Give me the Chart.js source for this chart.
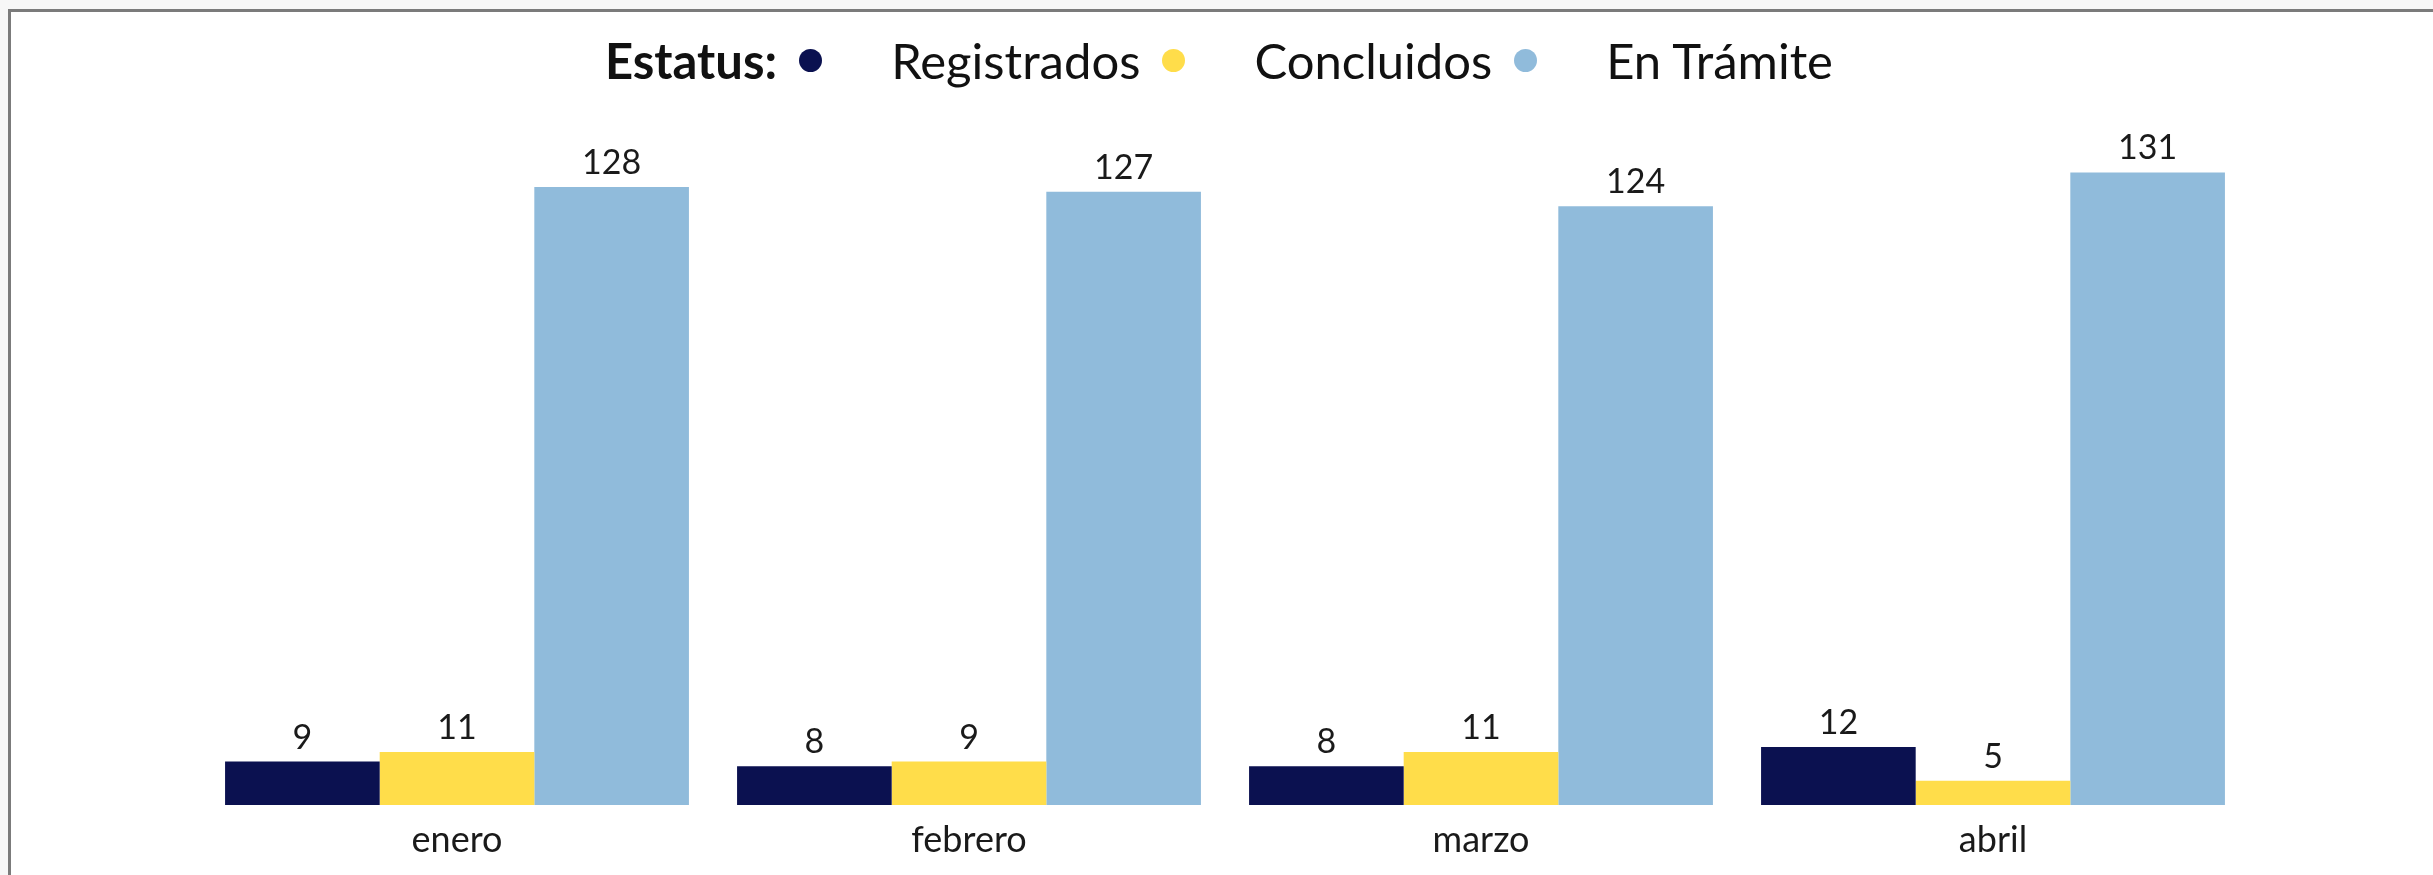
<!DOCTYPE html>
<html lang="es">
<head>
  <meta charset="UTF-8" />
  <title>Estatus por mes</title>
  <script src="https://cdn.jsdelivr.net/npm/chart.js"></script>
  <style>
    html, body { margin: 0; padding: 0; background: #f7f7f7; }
    body { width: 2433px; height: 875px; position: relative; overflow: hidden; font-family: Lato, "Open Sans", sans-serif; }
    .frame { position: absolute; left: 8px; top: 9px; right: 0; bottom: 0; background: #fff;
             border-top: 3px solid #7b7b7b; border-left: 3px solid #7b7b7b; }
    #chart { position: absolute; left: 0; top: 0; }
    .legend { position: absolute; left: 605px; top: 28px; height: 64px; display: flex; align-items: center;
              font-size: 49px; color: #111; white-space: nowrap; }
    .legend b { font-weight: 700; margin-right: 22px; }
    .legend .dot { width: 23px; height: 23px; border-radius: 50%; display: inline-block; margin-right: 69px; }
    .legend .lbl { margin-right: 22px; }
  </style>
</head>
<body>
<div class="frame"></div>
<canvas id="chart" width="2433" height="875"></canvas>
<div class="legend" id="legend"><b>Estatus:</b></div>

<script>
  // data
  const months = ['enero', 'febrero', 'marzo', 'abril'];
  const seriesNames = ['Registrados', 'Concluidos', 'En Trámite'];
  const registrados = [9, 8, 8, 12];
  const concluidos = [11, 9, 11, 5];
  const enTramite = [128, 127, 124, 131];
  const colors = ['#0b1150', '#ffdd4a', '#90bbdb'];

  const values = [registrados, concluidos, enTramite];

  // legend row (dot then name)
  const legendEl = document.getElementById('legend');
  seriesNames.forEach((name, i) => {
    const dot = document.createElement('span');
    dot.className = 'dot';
    dot.style.background = colors[i];
    const lbl = document.createElement('span');
    lbl.className = 'lbl';
    lbl.textContent = name;
    legendEl.appendChild(dot);
    legendEl.appendChild(lbl);
  });

  // value labels above bars
  const barLabels = {
    id: 'barLabels',
    afterDatasetsDraw(chart) {
      const ctx = chart.ctx;
      ctx.save();
      ctx.font = '34px Lato, "Open Sans", sans-serif';
      ctx.fillStyle = '#1a1a1a';
      ctx.textAlign = 'center';
      ctx.textBaseline = 'alphabetic';
      chart.data.datasets.forEach((ds, i) => {
        chart.getDatasetMeta(i).data.forEach((bar, j) => {
          ctx.fillText(String(ds.data[j]), bar.x, bar.y - 13);
        });
      });
      ctx.restore();
    }
  };

  new Chart(document.getElementById('chart'), {
    type: 'bar',
    data: {
      labels: months,
      datasets: seriesNames.map((name, i) => ({
        label: name,
        data: values[i],
        backgroundColor: colors[i],
        borderWidth: 0,
        categoryPercentage: 0.906,
        barPercentage: 1.0
      }))
    },
    options: {
      responsive: false,
      animation: false,
      layout: { padding: { left: 201, right: 184, top: 129, bottom: 0 } },
      plugins: {
        legend: { display: false },
        tooltip: { enabled: false }
      },
      scales: {
        x: {
          grid: { display: false, drawTicks: false },
          border: { display: false },
          ticks: {
            padding: 17,
            color: '#1a1a1a',
            font: { family: 'Lato, "Open Sans", sans-serif', size: 36, lineHeight: 1.0 }
          }
        },
        y: { display: false, min: 0, max: 140 }
      }
    },
    plugins: [barLabels]
  });
</script>
</body>
</html>
